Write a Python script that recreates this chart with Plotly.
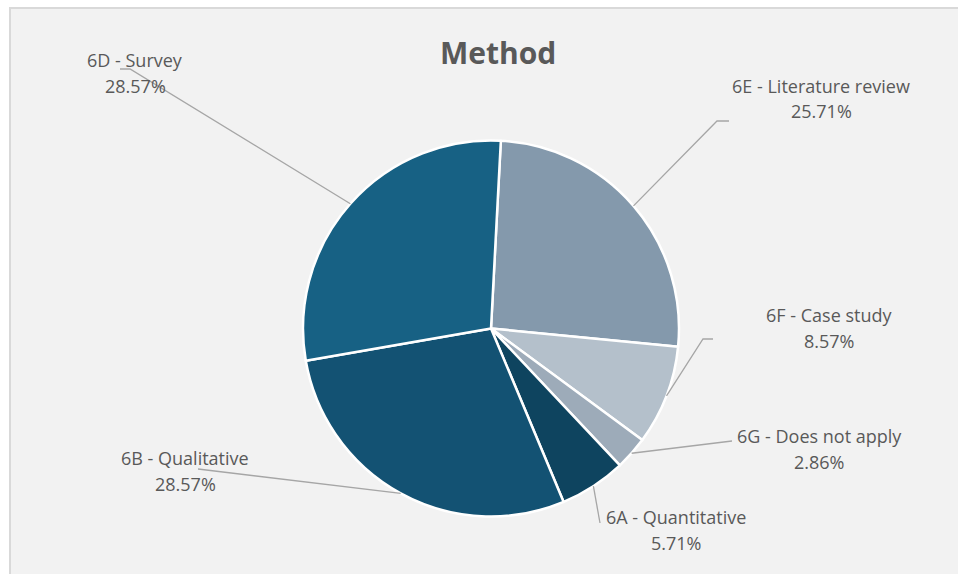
import math
import plotly.graph_objects as go

# ---- data ----
categories = ["6E - Literature review", "6F - Case study", "6G - Does not apply",
              "6A - Quantitative", "6B - Qualitative", "6D - Survey"]
percent_values = [25.71, 8.57, 2.86, 5.71, 28.57, 28.57]
percent_labels = ["25.71%", "8.57%", "2.86%", "5.71%", "28.57%", "28.57%"]
slice_colors = ["#8499AC", "#B4C0CB", "#9DABB9", "#0E445F", "#135273", "#176184"]

# ---- layout constants (pixels, in window coordinates) ----
W, H = 958, 574
CX, CY, R = 491, 328.5, 188
ROTATION = 3
label_pos = {
    "6E - Literature review": ((821, 86), (821, 111)),
    "6F - Case study": ((829, 315), (829, 341)),
    "6G - Does not apply": ((819, 436), (819, 462)),
    "6A - Quantitative": ((676, 517), (676, 543)),
    "6B - Qualitative": ((185, 458), (185, 484)),
    "6D - Survey": ((135, 60), (135, 86)),
}
leader_pts = {
    "6E - Literature review": [(717, 121), (729, 121)],
    "6F - Case study": [(703, 339), (713, 339)],
    "6G - Does not apply": [(732, 441)],
    "6A - Quantitative": [(600, 523)],
    "6B - Qualitative": [(198, 469)],
    "6D - Survey": [(130, 69), (120, 69)],
}

def px(x):
    return x / W

def py(y):
    return 1 - y / H

fig = go.Figure()
fig.add_trace(go.Pie(
    labels=categories,
    values=percent_values,
    sort=False,
    direction="clockwise",
    rotation=ROTATION,
    marker=dict(colors=slice_colors, line=dict(color="white", width=2.5)),
    textinfo="none",
    hoverinfo="label+percent",
    showlegend=False,
    domain=dict(x=[px(CX - R), px(CX + R)], y=[py(CY + R), py(CY - R)]),
))

shapes = [dict(type="rect", xref="paper", yref="paper",
               x0=px(10), x1=1.02, y0=-0.02, y1=py(8),
               fillcolor="#F2F2F2", line=dict(color="#D9D9D9", width=2), layer="below")]
annotations = []
total = sum(percent_values)
cum = 0.0
label_font = dict(family="Open Sans", size=18, color="#595959")
for cat, v, pl in zip(categories, percent_values, percent_labels):
    mid = math.radians(ROTATION + (cum + v / 2) / total * 360)
    cum += v
    sx = CX + R * math.sin(mid)
    sy = CY - R * math.cos(mid)
    pts = [(sx, sy)] + leader_pts[cat]
    path = "M " + " L ".join(f"{px(x):.5f},{py(y):.5f}" for x, y in pts)
    shapes.append(dict(type="path", xref="paper", yref="paper", path=path,
                       line=dict(color="#A6A6A6", width=1.3), layer="above"))
    (nx, ny), (vx, vy) = label_pos[cat]
    annotations.append(dict(x=px(nx), y=py(ny), xref="paper", yref="paper",
                            text=cat, showarrow=False, font=label_font,
                            xanchor="center", yanchor="middle"))
    annotations.append(dict(x=px(vx), y=py(vy), xref="paper", yref="paper",
                            text=pl, showarrow=False, font=label_font,
                            xanchor="center", yanchor="middle"))

annotations.append(dict(x=px(498), y=py(52), xref="paper", yref="paper",
                        text="<b>Method</b>", showarrow=False,
                        font=dict(family="Open Sans", size=30, color="#595959"),
                        xanchor="center", yanchor="middle"))

fig.update_layout(
    width=W, height=H,
    margin=dict(l=0, r=0, t=0, b=0),
    paper_bgcolor="white",
    plot_bgcolor="white",
    shapes=shapes,
    annotations=annotations,
)

fig.write_html(
    "out.html",
    config={"displayModeBar": False},
    post_script="document.body.style.margin='0';"
                "document.documentElement.style.overflow='hidden';"
                "document.body.style.overflow='hidden';",
)
